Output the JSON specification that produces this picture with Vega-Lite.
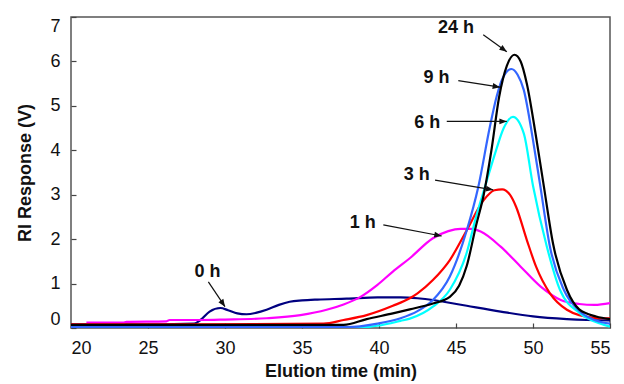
{
  "$schema": "https://vega.github.io/schema/vega-lite/v6.json",
  "autosize": {"type": "none"},
  "padding": {"left": 71, "top": 17, "right": 14, "bottom": 56},
  "width": 539,
  "height": 311,
  "background": "white",
  "config": {
    "font": "Liberation Sans",
    "view": {"stroke": "#555555", "strokeWidth": 1.5},
    "axis": {
      "grid": false,
      "domain": false,
      "tickColor": "#444444",
      "tickSize": -5,
      "tickWidth": 1.2,
      "labelFont": "Liberation Sans",
      "labelFontSize": 18,
      "labelColor": "#111111",
      "titleFont": "Liberation Sans",
      "titleFontSize": 18,
      "titleFontWeight": "bold",
      "titleColor": "#111111"
    }
  },
  "datasets": {
    "curves": [
      {"s": "0 h", "t": 20, "v": 0.08},
      {"s": "0 h", "t": 24, "v": 0.08},
      {"s": "0 h", "t": 28, "v": 0.1},
      {"s": "0 h", "t": 28.4, "v": 0.18},
      {"s": "0 h", "t": 29.0, "v": 0.37},
      {"s": "0 h", "t": 29.7, "v": 0.45},
      {"s": "0 h", "t": 30.2, "v": 0.4},
      {"s": "0 h", "t": 30.8, "v": 0.33},
      {"s": "0 h", "t": 31.4, "v": 0.31},
      {"s": "0 h", "t": 32.0, "v": 0.34},
      {"s": "0 h", "t": 32.7, "v": 0.41},
      {"s": "0 h", "t": 33.5, "v": 0.52},
      {"s": "0 h", "t": 34.2, "v": 0.59},
      {"s": "0 h", "t": 35.0, "v": 0.62},
      {"s": "0 h", "t": 36.0, "v": 0.64},
      {"s": "0 h", "t": 37.9, "v": 0.66},
      {"s": "0 h", "t": 39.9, "v": 0.69},
      {"s": "0 h", "t": 41.4, "v": 0.69},
      {"s": "0 h", "t": 42.5, "v": 0.67},
      {"s": "0 h", "t": 43.5, "v": 0.63},
      {"s": "0 h", "t": 44.2, "v": 0.59},
      {"s": "0 h", "t": 45.7, "v": 0.5},
      {"s": "0 h", "t": 47.9, "v": 0.37},
      {"s": "0 h", "t": 50.0, "v": 0.26},
      {"s": "0 h", "t": 52.2, "v": 0.2},
      {"s": "0 h", "t": 53.5, "v": 0.18},
      {"s": "0 h", "t": 55, "v": 0.17},

      {"s": "1 h", "t": 21, "v": 0.12},
      {"s": "1 h", "t": 23.4, "v": 0.12},
      {"s": "1 h", "t": 23.6, "v": 0.14},
      {"s": "1 h", "t": 26.2, "v": 0.15},
      {"s": "1 h", "t": 26.4, "v": 0.18},
      {"s": "1 h", "t": 28.4, "v": 0.18},
      {"s": "1 h", "t": 30.0, "v": 0.19},
      {"s": "1 h", "t": 32.7, "v": 0.22},
      {"s": "1 h", "t": 34.9, "v": 0.29},
      {"s": "1 h", "t": 36.6, "v": 0.41},
      {"s": "1 h", "t": 37.7, "v": 0.53},
      {"s": "1 h", "t": 38.8, "v": 0.7},
      {"s": "1 h", "t": 39.9, "v": 0.97},
      {"s": "1 h", "t": 40.9, "v": 1.27},
      {"s": "1 h", "t": 42.0, "v": 1.57},
      {"s": "1 h", "t": 43.5, "v": 2.02},
      {"s": "1 h", "t": 44.5, "v": 2.18},
      {"s": "1 h", "t": 45.3, "v": 2.23},
      {"s": "1 h", "t": 46.0, "v": 2.23},
      {"s": "1 h", "t": 46.6, "v": 2.17},
      {"s": "1 h", "t": 47.9, "v": 1.83},
      {"s": "1 h", "t": 49.2, "v": 1.38},
      {"s": "1 h", "t": 50.5, "v": 0.93},
      {"s": "1 h", "t": 51.8, "v": 0.63},
      {"s": "1 h", "t": 53.0, "v": 0.54},
      {"s": "1 h", "t": 54.0, "v": 0.52},
      {"s": "1 h", "t": 55, "v": 0.56},

      {"s": "3 h", "t": 20, "v": 0.08},
      {"s": "3 h", "t": 28, "v": 0.08},
      {"s": "3 h", "t": 36.4, "v": 0.1},
      {"s": "3 h", "t": 37.7, "v": 0.18},
      {"s": "3 h", "t": 39.2, "v": 0.29},
      {"s": "3 h", "t": 40.9, "v": 0.5},
      {"s": "3 h", "t": 42.0, "v": 0.67},
      {"s": "3 h", "t": 42.5, "v": 0.78},
      {"s": "3 h", "t": 43.5, "v": 1.08},
      {"s": "3 h", "t": 44.6, "v": 1.53},
      {"s": "3 h", "t": 45.7, "v": 2.2},
      {"s": "3 h", "t": 46.8, "v": 2.88},
      {"s": "3 h", "t": 47.5, "v": 3.1},
      {"s": "3 h", "t": 48.0, "v": 3.12},
      {"s": "3 h", "t": 48.5, "v": 3.0},
      {"s": "3 h", "t": 48.9, "v": 2.73},
      {"s": "3 h", "t": 49.6, "v": 1.98},
      {"s": "3 h", "t": 50.2, "v": 1.38},
      {"s": "3 h", "t": 51.1, "v": 0.78},
      {"s": "3 h", "t": 52.2, "v": 0.41},
      {"s": "3 h", "t": 53.0, "v": 0.29},
      {"s": "3 h", "t": 54.4, "v": 0.22},
      {"s": "3 h", "t": 55, "v": 0.22},

      {"s": "6 h", "t": 20, "v": 0.0},
      {"s": "6 h", "t": 38, "v": 0.0},
      {"s": "6 h", "t": 39.9, "v": 0.05},
      {"s": "6 h", "t": 41.4, "v": 0.16},
      {"s": "6 h", "t": 42.0, "v": 0.21},
      {"s": "6 h", "t": 43.5, "v": 0.48},
      {"s": "6 h", "t": 44.6, "v": 0.86},
      {"s": "6 h", "t": 45.7, "v": 1.7},
      {"s": "6 h", "t": 46.3, "v": 2.5},
      {"s": "6 h", "t": 46.9, "v": 3.2},
      {"s": "6 h", "t": 47.6, "v": 4.0},
      {"s": "6 h", "t": 48.1, "v": 4.5},
      {"s": "6 h", "t": 48.7, "v": 4.75},
      {"s": "6 h", "t": 49.4, "v": 4.38},
      {"s": "6 h", "t": 50.0, "v": 3.2},
      {"s": "6 h", "t": 50.9, "v": 1.83},
      {"s": "6 h", "t": 51.75, "v": 0.86},
      {"s": "6 h", "t": 53.05, "v": 0.33},
      {"s": "6 h", "t": 54.35, "v": 0.1},
      {"s": "6 h", "t": 55, "v": 0.03},

      {"s": "9 h", "t": 20, "v": 0.02},
      {"s": "9 h", "t": 37.9, "v": 0.02},
      {"s": "9 h", "t": 39.9, "v": 0.1},
      {"s": "9 h", "t": 41.4, "v": 0.22},
      {"s": "9 h", "t": 42.5, "v": 0.38},
      {"s": "9 h", "t": 43.5, "v": 0.63},
      {"s": "9 h", "t": 44.6, "v": 1.16},
      {"s": "9 h", "t": 45.7, "v": 2.2},
      {"s": "9 h", "t": 46.45, "v": 3.18},
      {"s": "9 h", "t": 47.2, "v": 4.53},
      {"s": "9 h", "t": 47.64, "v": 5.21},
      {"s": "9 h", "t": 48.0, "v": 5.6},
      {"s": "9 h", "t": 48.6, "v": 5.83},
      {"s": "9 h", "t": 49.0, "v": 5.7},
      {"s": "9 h", "t": 49.4, "v": 5.36},
      {"s": "9 h", "t": 50.0, "v": 4.23},
      {"s": "9 h", "t": 50.45, "v": 3.25},
      {"s": "9 h", "t": 51.1, "v": 1.83},
      {"s": "9 h", "t": 52.0, "v": 0.86},
      {"s": "9 h", "t": 53.05, "v": 0.37},
      {"s": "9 h", "t": 54.35, "v": 0.14},
      {"s": "9 h", "t": 55, "v": 0.1},

      {"s": "24 h", "t": 20, "v": 0.07},
      {"s": "24 h", "t": 37.7, "v": 0.07},
      {"s": "24 h", "t": 39.2, "v": 0.2},
      {"s": "24 h", "t": 40.9, "v": 0.33},
      {"s": "24 h", "t": 42.0, "v": 0.42},
      {"s": "24 h", "t": 43.5, "v": 0.55},
      {"s": "24 h", "t": 44.6, "v": 0.7},
      {"s": "24 h", "t": 45.2, "v": 0.95},
      {"s": "24 h", "t": 45.7, "v": 1.4},
      {"s": "24 h", "t": 46.3, "v": 2.3},
      {"s": "24 h", "t": 46.8, "v": 3.0},
      {"s": "24 h", "t": 47.3, "v": 4.0},
      {"s": "24 h", "t": 47.8, "v": 5.2},
      {"s": "24 h", "t": 48.3, "v": 5.9},
      {"s": "24 h", "t": 48.8, "v": 6.15},
      {"s": "24 h", "t": 49.2, "v": 6.0},
      {"s": "24 h", "t": 49.6, "v": 5.5},
      {"s": "24 h", "t": 50.2, "v": 4.3},
      {"s": "24 h", "t": 50.7, "v": 3.2},
      {"s": "24 h", "t": 51.3, "v": 1.9},
      {"s": "24 h", "t": 52.2, "v": 0.86},
      {"s": "24 h", "t": 53.0, "v": 0.42},
      {"s": "24 h", "t": 54.1, "v": 0.26},
      {"s": "24 h", "t": 55, "v": 0.2}
    ],
    "notes": [
      {"label": "24 h", "tx": 45.0, "ty": 6.75, "x1": 46.77, "y1": 6.6, "x2": 48.3, "y2": 6.22},
      {"label": "9 h", "tx": 43.74, "ty": 5.62, "x1": 45.15, "y1": 5.57, "x2": 47.86, "y2": 5.42},
      {"label": "6 h", "tx": 43.14, "ty": 4.61, "x1": 44.4, "y1": 4.65, "x2": 48.3, "y2": 4.65},
      {"label": "3 h", "tx": 42.45, "ty": 3.45, "x1": 43.64, "y1": 3.33, "x2": 47.42, "y2": 3.11},
      {"label": "1 h", "tx": 38.94, "ty": 2.36, "x1": 40.28, "y1": 2.32, "x2": 44.07, "y2": 2.07},
      {"label": "0 h", "tx": 28.87, "ty": 1.27, "x1": 28.92, "y1": 1.04, "x2": 30.0, "y2": 0.48}
    ]
  },
  "layer": [
    {
      "data": {"name": "curves"},
      "mark": {"type": "line", "interpolate": "monotone", "strokeWidth": 2.2, "clip": true},
      "encoding": {
        "x": {
          "field": "t", "type": "quantitative",
          "scale": {"domain": [20, 55], "nice": false, "zero": false},
          "axis": {"values": [20, 25, 30, 35, 40, 45, 50, 55], "title": "Elution time (min)", "labelPadding": 16, "titlePadding": 5}
        },
        "y": {
          "field": "v", "type": "quantitative",
          "scale": {"domain": [0, 7], "nice": false},
          "axis": {"values": [0, 1, 2, 3, 4, 5, 6, 7], "title": "RI Response (V)", "labelPadding": 16, "labelFlush": true, "titlePadding": 15}
        },
        "color": {
          "field": "s", "type": "nominal",
          "scale": {"domain": ["0 h", "1 h", "3 h", "6 h", "9 h", "24 h"], "range": ["#000080", "#FF00FF", "#FF0000", "#00FFFF", "#3366FF", "#000000"]},
          "legend": null
        },
        "order": {"field": "t", "type": "quantitative"}
      }
    },
    {
      "data": {"name": "notes"},
      "mark": {"type": "rule", "color": "#111111", "strokeWidth": 1.2},
      "encoding": {
        "x": {"field": "x1", "type": "quantitative"},
        "y": {"field": "y1", "type": "quantitative"},
        "x2": {"field": "x2"},
        "y2": {"field": "y2"}
      }
    },
    {
      "data": {"name": "notes"},
      "transform": [
        {"calculate": "atan2((datum.x2 - datum.x1) * 15.4, (datum.y2 - datum.y1) * 44.43) * 180 / PI", "as": "ang"}
      ],
      "mark": {"type": "point", "shape": "M0,0 L-0.4,1 L0.4,1 Z", "filled": true, "color": "#111111", "size": 220, "opacity": 1},
      "encoding": {
        "x": {"field": "x2", "type": "quantitative"},
        "y": {"field": "y2", "type": "quantitative"},
        "angle": {"field": "ang", "type": "quantitative", "scale": null}
      }
    },
    {
      "data": {"name": "notes"},
      "mark": {"type": "text", "font": "Liberation Sans", "fontSize": 18, "fontWeight": "bold", "color": "#111111", "align": "center", "baseline": "middle"},
      "encoding": {
        "x": {"field": "tx", "type": "quantitative"},
        "y": {"field": "ty", "type": "quantitative"},
        "text": {"field": "label"}
      }
    }
  ]
}
